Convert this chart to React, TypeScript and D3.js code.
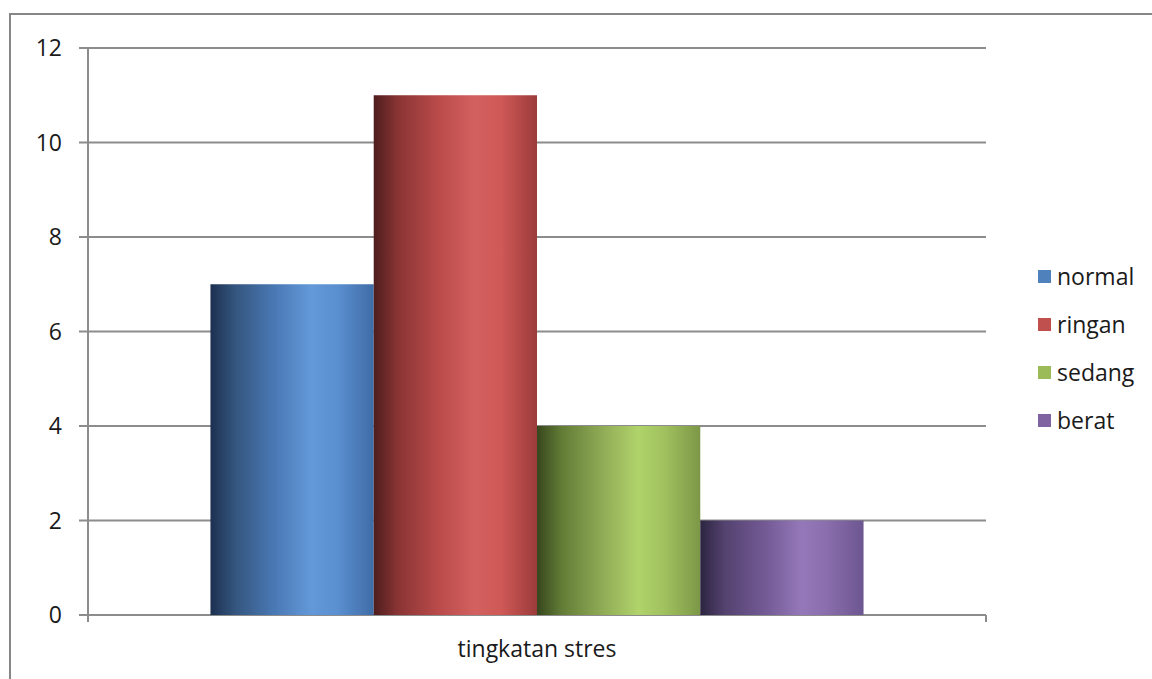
import React from "react";
import * as d3 from "d3";

const categories = ["tingkatan stres"];
const seriesNames = ["normal", "ringan", "sedang", "berat"];
const seriesValues = [7, 11, 4, 2];
const yTicks = [0, 2, 4, 6, 8, 10, 12];

const gradients = [
  ["#1d3050", "#34557e", "#4a7ab6", "#6399d8", "#5a8fd0", "#3f6ca6"],
  ["#4e1d1d", "#8a3434", "#bb4b4b", "#d2615f", "#cf5956", "#9b3b3b"],
  ["#37461d", "#627c36", "#90ab56", "#b0d36b", "#a0c15e", "#7c9747"],
  ["#2c2440", "#54426f", "#735a95", "#9578b9", "#8a6dac", "#6c5690"],
];
const legendColors = ["#4f81bd", "#c0504d", "#9bbb59", "#8064a2"];
const stopOffsets = [0, 0.15, 0.4, 0.62, 0.78, 1];

export default function App() {
  const W = 1152, H = 679;
  const left = 88, right = 986, top = 48, bottom = 615;
  const y = d3.scaleLinear().domain([0, 12]).range([bottom, top]);
  const x0 = d3.scaleBand().domain(categories).range([left, right]).paddingInner(0).paddingOuter(0);
  const groupW = x0.bandwidth();
  const barW = groupW / (seriesNames.length + 1.5);
  const font = "'Open Sans', 'Noto Sans', sans-serif";
  const fs = 23;
  return (
    <svg width={W} height={H} style={{ position: "absolute", left: 0, top: 0, background: "#fff" }}>
      <defs>
        {gradients.map((g, i) => (
          <linearGradient key={i} id={`g${i}`} x1="0" x2="1" y1="0" y2="0">
            {g.map((c, j) => (
              <stop key={j} offset={stopOffsets[j]} stopColor={c} />
            ))}
          </linearGradient>
        ))}
      </defs>
      <rect x={0} y={0} width={W} height={H} fill="#fff" />
      <rect x={10} y={14} width={W + 20} height={H + 20} fill="none" stroke="#868686" strokeWidth={2} />
      {yTicks.map((t) => (
        <g key={t}>
          <line x1={left - 9} x2={right} y1={y(t)} y2={y(t)} stroke="#8c8c8c" strokeWidth={2} />
          <text x={62} y={y(t)} dy="0.35em" textAnchor="end" fontFamily={font} fontSize={fs} fill="#1a1a1a">
            {t}
          </text>
        </g>
      ))}
      <line x1={left} x2={left} y1={top} y2={bottom + 7} stroke="#8c8c8c" strokeWidth={2} />
      <line x1={right} x2={right} y1={bottom} y2={bottom + 7} stroke="#8c8c8c" strokeWidth={2} />
      {categories.map((c) => {
        const gx = x0(c) as number;
        return (
          <g key={c}>
            {seriesValues.map((v, i) => {
              const bx = gx + barW * 0.75 + i * barW;
              return (
                <rect key={i} x={bx} y={y(v)} width={barW} height={y(0) - y(v)} fill={`url(#g${i})`} />
              );
            })}
            <text x={gx + groupW / 2} y={649} dy="0.35em" textAnchor="middle" fontFamily={font} fontSize={fs} fill="#1a1a1a">
              {c}
            </text>
          </g>
        );
      })}
      {seriesNames.map((s, i) => (
        <g key={s} transform={`translate(1038, ${277 + i * 48})`}>
          <rect x={0} y={-7} width={13} height={13} fill={legendColors[i]} />
          <text x={19} y={0} dy="0.35em" fontFamily={font} fontSize={fs} fill="#1a1a1a">
            {s}
          </text>
        </g>
      ))}
    </svg>
  );
}
